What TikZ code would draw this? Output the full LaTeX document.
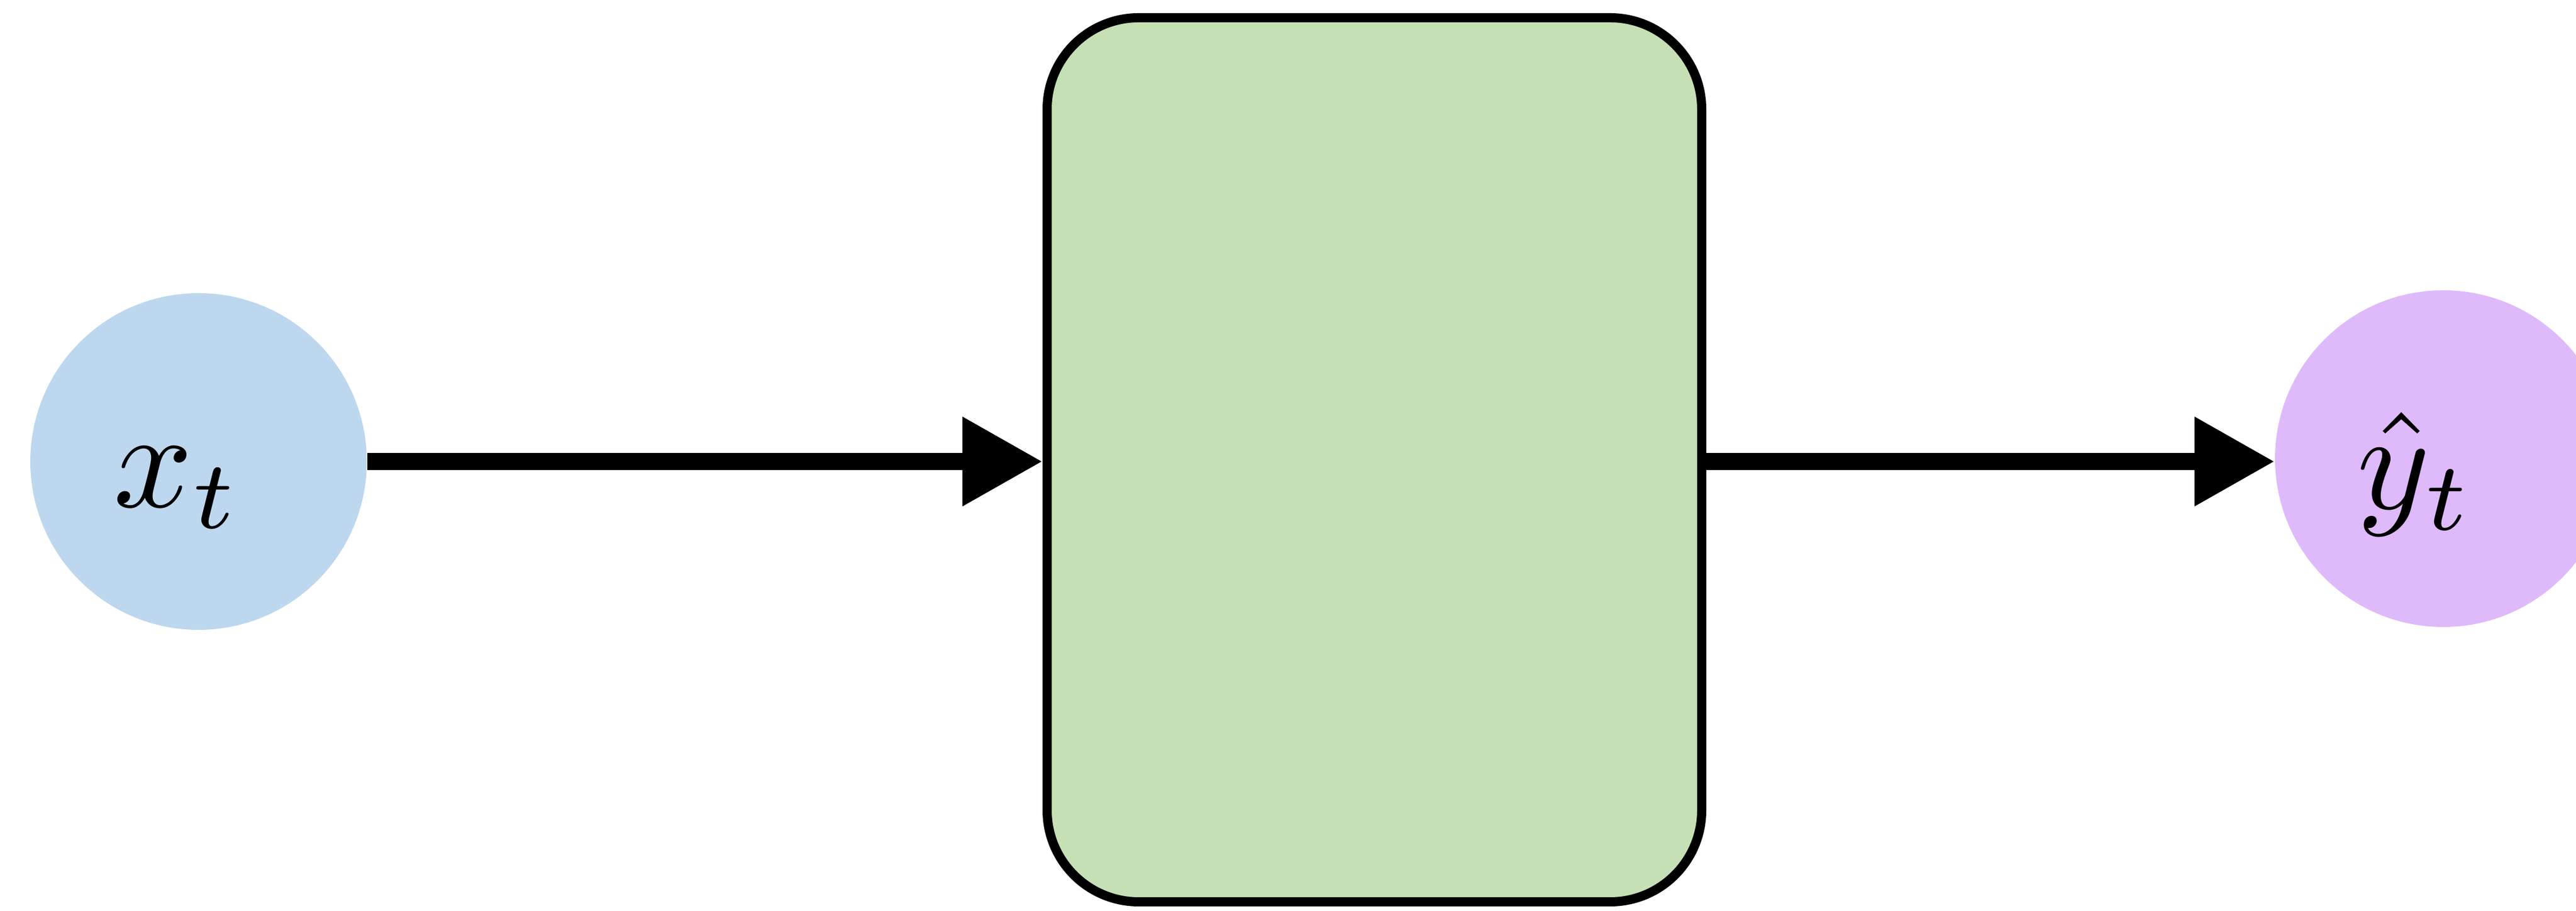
\documentclass[tikz,border=0pt]{standalone}
\usepackage{graphicx}
\usetikzlibrary{arrows.meta}
\definecolor{inblue}{RGB}{189,215,238}
\definecolor{outpurple}{RGB}{223,186,250}
\definecolor{cellgreen}{RGB}{197,224,180}
\tikzset{
  ionode/.style={circle, minimum size=5.88cm, inner sep=0pt},
  mathlabel/.style={anchor=base, inner sep=0pt},
  cellbox/.style={draw=black, line width=0.16cm, fill=cellgreen, rounded corners=1.6cm,
    minimum width=11.44cm, minimum height=15.44cm, inner sep=0pt},
  flow/.style={line width=0.30cm, -{Triangle[length=1.4cm, width=1.48cm]}}
}
\begin{document}
\begin{tikzpicture}
\useasboundingbox (0,0) rectangle (45.02,15.91);
\clip (0,0) rectangle (45.02,15.91);
\node[ionode, fill=inblue] (x) at (3.47,7.85) {};
\node[ionode, fill=outpurple] (y) at (42.70,7.90) {};
\node[mathlabel] (xl) at ([xshift=-0.37cm, yshift=-0.80cm]x.center) {\scalebox{6.9}{$x_t$}};
\node[mathlabel] (yl) at ([xshift=-0.48cm, yshift=-0.88cm]y.center) {\scalebox{6.9}{$\hat{y}_t$}};
\node[cellbox] (cell) at (24.02,7.88) {};
\draw[flow] (x.east) -- (cell.west |- x.east);
\draw[flow] (cell.east |- x.east) -- (y.west |- x.east);
\end{tikzpicture}
\end{document}
